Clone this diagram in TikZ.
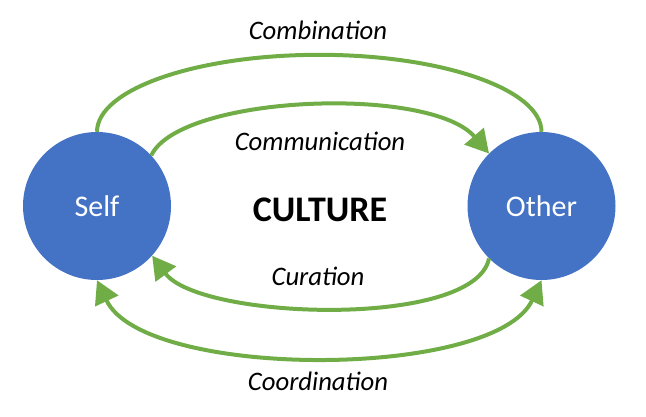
\documentclass[tikz,border=0pt]{standalone}
\usepackage{fontspec}
\setmainfont{Carlito}
\usetikzlibrary{arrows.meta}
\definecolor{cblue}{HTML}{4472C4}
\definecolor{cgreen}{HTML}{70AD47}
\begin{document}
\begin{tikzpicture}[x=1pt,y=-1pt,
 person/.style={circle,fill=cblue,minimum size=148pt,inner sep=0pt,text=white,font=\fontsize{30}{36}\selectfont},
 lbl/.style={font=\fontsize{26.7}{32}\selectfont\itshape,inner sep=0pt},
 greenflow/.style={draw=cgreen,line width=4pt},
 headend/.style={-{Triangle[length=23pt,width=25pt]}},
 headboth/.style={{Triangle[length=23pt,width=25pt]}-{Triangle[length=23pt,width=25pt]}}]
\useasboundingbox (0,0) rectangle (646,416);
\node[person] (self) at (97,206) {Self};
\node[person] (other) at (541.5,206) {Other};
\node[font=\fontsize{36}{42}\selectfont\bfseries,inner sep=0pt] (culture) at (320,210) {CULTURE};
\node[lbl] (comb) at (318,30) {Combination};
\node[lbl] (comm) at (320,141) {Communication};
\node[lbl] (cur) at (318,276) {Curation};
\node[lbl] (coord) at (318,381) {Coordination};
\draw[greenflow] (self.north) arc[start angle=180,end angle=360,x radius=222.25,y radius=77];
\draw[greenflow,headend] (self.43) .. controls (180,95) and (430,85) .. (other.135);
\draw[greenflow,headend] (other.225) .. controls (475,329) and (200,320) .. (self.318);
\draw[greenflow,headboth] (self.south) .. controls (144,380) and (495,380) .. (other.south);
\end{tikzpicture}
\end{document}
